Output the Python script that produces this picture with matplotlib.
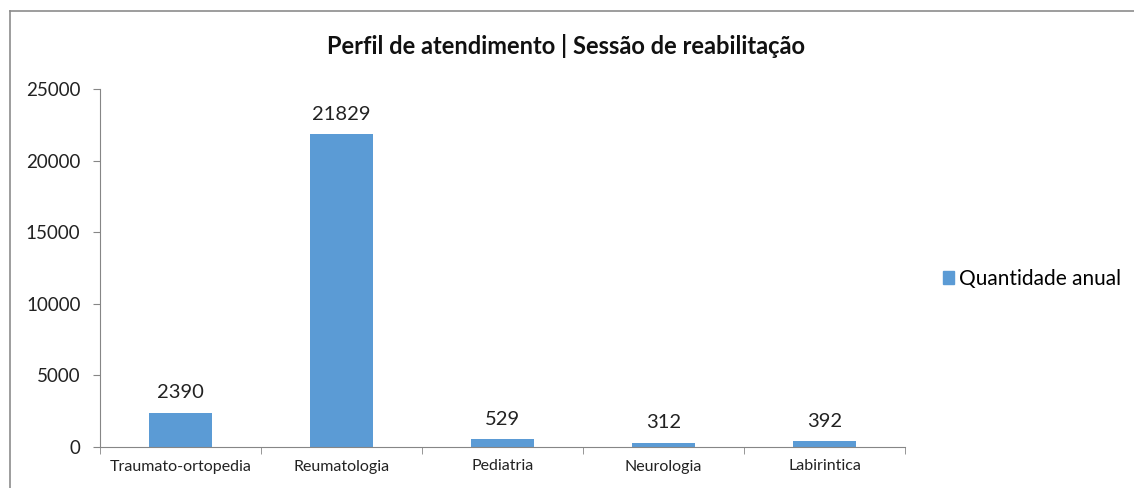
import matplotlib.pyplot as plt
from matplotlib.lines import Line2D

plt.rcParams['font.family'] = ['Lato', 'DejaVu Sans']

# dados do gráfico
categorias = ['Traumato-ortopedia', 'Reumatologia', 'Pediatria', 'Neurologia', 'Labirintica']
quantidade = [2390, 21829, 529, 312, 392]
yticks = [0, 5000, 10000, 15000, 20000, 25000]

azul = '#5b9bd5'
cinza = '#868686'

fig = plt.figure(figsize=(11.34, 4.88), dpi=100)
ax = fig.add_axes([100 / 1134, 1 - 447 / 488, 805 / 1134, 358 / 488])

x = range(len(categorias))
ax.bar(x, quantidade, width=0.39, color=azul)
for i, v in zip(x, quantidade):
    ax.text(i, v + 800, str(v), ha='center', va='bottom', fontsize=14.5, color='#222222')

ax.set_xlim(-0.5, len(categorias) - 0.5)
ax.set_ylim(0, 25000)
ax.set_yticks(yticks)
ax.set_yticklabels([str(t) for t in yticks], fontsize=13.5, color='#222222')
ax.set_xticks(list(x))
ax.set_xticklabels(categorias, fontsize=11.5, color='#222222')
ax.set_xticks([i - 0.5 for i in range(len(categorias) + 1)], minor=True)
ax.tick_params(axis='x', which='major', length=0, pad=9)
ax.tick_params(axis='x', which='minor', length=5, color=cinza, direction='out')
ax.tick_params(axis='y', length=5, color=cinza, direction='out', pad=9)

for s in ['top', 'right']:
    ax.spines[s].set_visible(False)
for s in ['left', 'bottom']:
    ax.spines[s].set_color(cinza)

fig.text(566 / 1134, 1 - 46 / 488, 'Perfil de atendimento | Sessão de reabilitação',
         ha='center', va='center', fontsize=17, fontweight='bold', color='#111111')

ax.legend([plt.Rectangle((0, 0), 1, 1, color=azul)], ['Quantidade anual'],
          loc='center left', bbox_to_anchor=(924 / 1134, 1 - 279 / 488),
          bbox_transform=fig.transFigure, frameon=False, fontsize=15,
          handlelength=0.55, handleheight=0.55, handletextpad=0.25)

# moldura do gráfico (só topo e esquerda visíveis)
fig.add_artist(Line2D([10 / 1134, 1], [1 - 11 / 488, 1 - 11 / 488], color='#8c8c8c', lw=1.2))
fig.add_artist(Line2D([10 / 1134, 10 / 1134], [0, 1 - 11 / 488], color='#8c8c8c', lw=1.2))

fig.savefig('out.png', dpi=100)
